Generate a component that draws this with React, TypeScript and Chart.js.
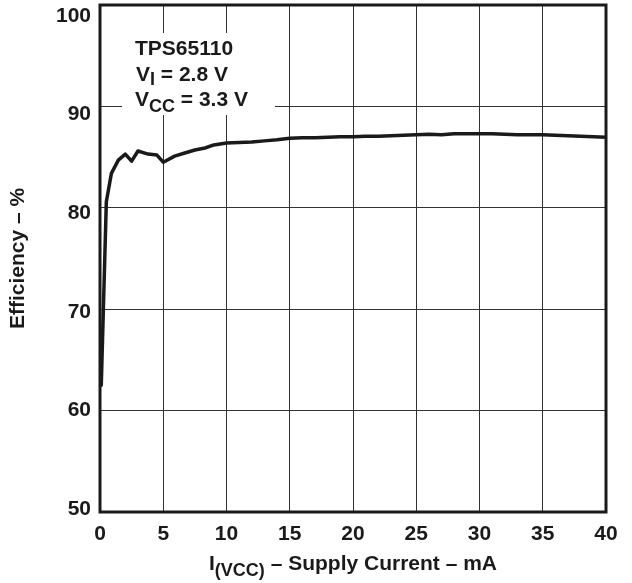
import React, { useEffect, useRef } from "react";
import { Chart, registerables } from "chart.js";

Chart.register(...registerables);

const currentMA: number[] = [0.1, 0.5, 0.9, 1.45, 2.0, 2.5, 3.0, 3.8, 4.5, 5.0, 5.9, 6.7, 7.5, 8.3, 9, 10, 11, 12, 13, 14, 15, 16, 17, 18, 19, 20, 21, 22, 23, 24, 25, 26, 27, 28, 29, 30, 31, 32, 33, 34, 35, 36, 37, 38, 39, 40];
const efficiencyPct: number[] = [62.5, 80.6, 83.4, 84.7, 85.3, 84.6, 85.6, 85.3, 85.2, 84.5, 85.1, 85.4, 85.7, 85.9, 86.2, 86.4, 86.45, 86.5, 86.6, 86.7, 86.85, 86.9, 86.9, 86.95, 87.0, 87.0, 87.05, 87.05, 87.1, 87.15, 87.2, 87.25, 87.2, 87.3, 87.3, 87.3, 87.3, 87.25, 87.2, 87.2, 87.2, 87.15, 87.1, 87.05, 87.0, 86.95];
const yTickValues: number[] = [50, 60, 70, 80, 90, 100];
const xTickValues: number[] = [0, 5, 10, 15, 20, 25, 30, 35, 40];
const annotationTitle = "TPS65110";
const annotationVI = { main: "V", sub: "I", rest: " = 2.8 V" };
const annotationVCC = { main: "V", sub: "CC", rest: " = 3.3 V" };
const xTitle = { main: "I", sub: "(VCC)", rest: " – Supply Current – mA" };
const yTitle = "Efficiency – %";

const FONT = '"Liberation Sans", Arial, sans-serif';
const INK = "#1a1a1a";
const FS = 21;
const SUB = 18;

function drawSubText(
  ctx: CanvasRenderingContext2D,
  x: number,
  y: number,
  parts: { main: string; sub: string; rest: string },
  size: number,
  subSize: number,
  subDrop: number
) {
  ctx.font = `bold ${size}px ${FONT}`;
  ctx.fillText(parts.main, x, y);
  let cx = x + ctx.measureText(parts.main).width;
  ctx.font = `bold ${subSize}px ${FONT}`;
  ctx.fillText(parts.sub, cx, y + subDrop);
  cx += ctx.measureText(parts.sub).width;
  ctx.font = `bold ${size}px ${FONT}`;
  ctx.fillText(parts.rest, cx, y);
}

function measureSub(ctx: CanvasRenderingContext2D, parts: { main: string; sub: string; rest: string }, size: number, subSize: number) {
  ctx.font = `bold ${size}px ${FONT}`;
  let w = ctx.measureText(parts.main).width + ctx.measureText(parts.rest).width;
  ctx.font = `bold ${subSize}px ${FONT}`;
  w += ctx.measureText(parts.sub).width;
  return w;
}

const decorPlugin = {
  id: "decor",
  beforeDatasetsDraw(chart: any) {
    const { ctx, chartArea } = chart;
    const { left, top } = chartArea;
    ctx.save();
    ctx.fillStyle = "#ffffff";
    ctx.fillRect(left + 22, top + 28, 153, 82);
    ctx.fillStyle = INK;
    ctx.textAlign = "left";
    ctx.textBaseline = "alphabetic";
    ctx.font = `bold ${FS}px ${FONT}`;
    ctx.fillText(annotationTitle, left + 35, top + 50);
    drawSubText(ctx, left + 36, top + 76, annotationVI, FS, SUB, 4);
    drawSubText(ctx, left + 35, top + 101, annotationVCC, FS, SUB, 6);
    ctx.restore();
  },
  afterDraw(chart: any) {
    const { ctx, chartArea } = chart;
    const { left, top, right, bottom } = chartArea;
    ctx.save();
    ctx.strokeStyle = INK;
    ctx.lineWidth = 3;
    ctx.strokeRect(left, top, right - left, bottom - top);
    const ys = chart.scales.y;
    ctx.fillStyle = INK;
    ctx.font = `bold ${FS}px ${FONT}`;
    ctx.textAlign = "right";
    ctx.textBaseline = "middle";
    ys.ticks.forEach((t: any) => {
      const p = ys.getPixelForValue(t.value);
      const frac = (p - top) / (bottom - top);
      const off = 11 - 14 * frac;
      ctx.fillText(String(t.value), left - 9, p + off);
    });
    ctx.textAlign = "left";
    ctx.textBaseline = "alphabetic";
    const w = measureSub(ctx, xTitle, FS, SUB);
    const cx = (left + right) / 2 - w / 2;
    drawSubText(ctx, cx, 570, xTitle, FS, SUB, 6);
    ctx.restore();
  },
};

export default function App() {
  const ref = useRef<HTMLCanvasElement | null>(null);
  useEffect(() => {
    document.body.style.margin = "0";
    if (!ref.current) return;
    const chart = new Chart(ref.current, {
      type: "line",
      data: {
        datasets: [
          {
            data: currentMA.map((x, i) => ({ x, y: efficiencyPct[i] })),
            borderColor: INK,
            borderWidth: 3.5,
            pointRadius: 0,
            tension: 0,
            borderJoinStyle: "round",
            borderCapStyle: "round",
            fill: false,
          },
        ],
      },
      options: {
        responsive: false,
        animation: false,
        devicePixelRatio: 1,
        layout: { padding: { top: 5, right: 26, left: 0, bottom: 0 } },
        plugins: { legend: { display: false }, tooltip: { enabled: false } },
        scales: {
          x: {
            type: "linear",
            min: 0,
            max: 40,
            afterBuildTicks: (s: any) => {
              s.ticks = xTickValues.map((v) => ({ value: v }));
            },
            afterFit: (s: any) => {
              s.height = 71;
            },
            grid: { color: "#333333", lineWidth: 1, drawTicks: false },
            border: { display: false },
            ticks: {
              color: INK,
              padding: 10,
              maxRotation: 0,
              font: { family: FONT, size: FS, weight: "bold" },
            },
          },
          y: {
            type: "linear",
            min: 50,
            max: 100,
            afterBuildTicks: (s: any) => {
              s.ticks = yTickValues.map((v) => ({ value: v }));
            },
            afterFit: (s: any) => {
              s.width = 100;
            },
            grid: { color: "#333333", lineWidth: 1, drawTicks: false },
            border: { display: false },
            ticks: { display: false },
            title: {
              display: true,
              text: yTitle,
              color: INK,
              padding: { top: 6, bottom: 0 },
              font: { family: FONT, size: FS, weight: "bold" },
            },
          },
        },
      },
      plugins: [decorPlugin],
    } as any);
    return () => chart.destroy();
  }, []);
  return (
    <div style={{ position: "absolute", left: 0, top: 0, width: 632, height: 583 }}>
      <canvas ref={ref} width={632} height={583} />
    </div>
  );
}
